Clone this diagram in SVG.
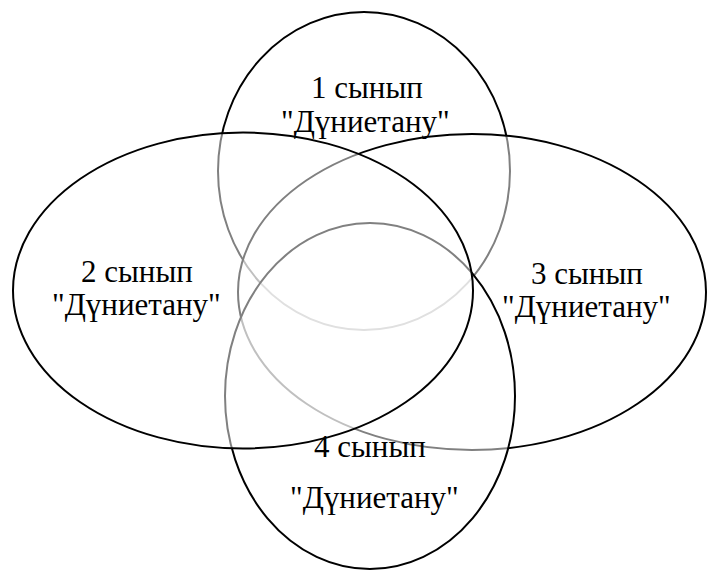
<svg xmlns="http://www.w3.org/2000/svg" width="707" height="571" viewBox="0 0 707 571">
<rect width="707" height="571" fill="#fff"/>
<g id="sets" fill="#ffffff" fill-opacity="0.5" stroke="#000" stroke-width="2">
<g id="set1"><ellipse cx="364" cy="171" rx="146" ry="159"/></g>
<g id="set3"><ellipse cx="472" cy="292" rx="234" ry="158"/></g>
<g id="set4"><ellipse cx="370" cy="396" rx="145" ry="173"/></g>
<g id="set2"><ellipse cx="243" cy="290.5" rx="230" ry="158"/></g>
</g>
<g id="connectors"></g>
<g id="labels" font-family="Liberation Serif, Tinos, Times New Roman, serif" font-size="31" fill="#000">
<text x="311" y="98">1 сынып</text>
<text x="281" y="132">"Дүниетану"</text>
<text x="81" y="282">2 сынып</text>
<text x="52" y="315">"Дүниетану"</text>
<text x="531" y="284">3 сынып</text>
<text x="502" y="317">"Дүниетану"</text>
<text x="314" y="457">4 сынып</text>
<text x="290" y="508">"Дүниетану"</text>
</g>
</svg>
